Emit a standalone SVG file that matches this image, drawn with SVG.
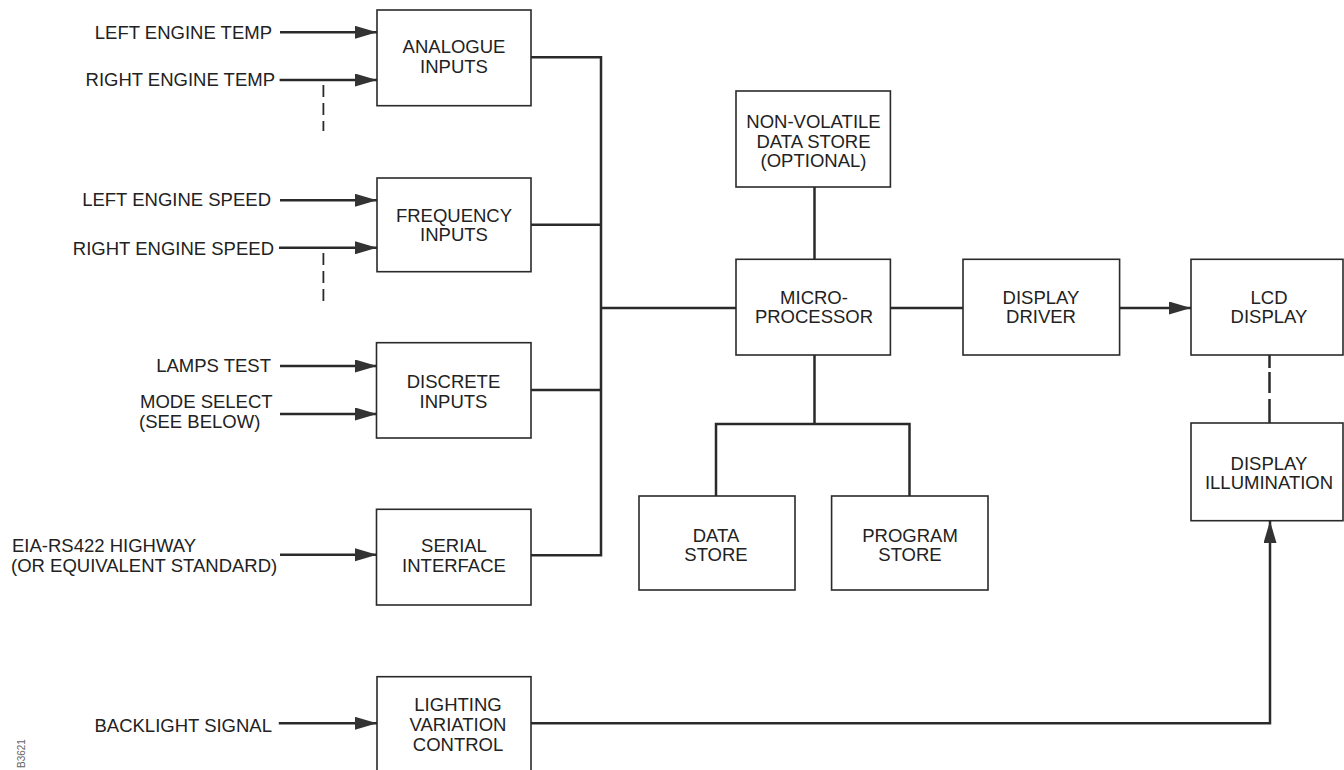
<svg xmlns="http://www.w3.org/2000/svg" width="1344" height="770" viewBox="0 0 1344 770">
<style>
text{font-family:"Liberation Sans",Arial,sans-serif;font-size:18.5px;fill:#222}
.c{text-anchor:middle}
.e{text-anchor:end}
.box{fill:#fff;stroke:#2a2a2a;stroke-width:1.6}
.ln{fill:none;stroke:#2a2a2a;stroke-width:2.5}
.ar{fill:none;stroke:#2a2a2a;stroke-width:2.5;marker-end:url(#ah)}
.dash{fill:none;stroke:#2a2a2a;stroke-width:1.8;stroke-dasharray:12 6}
.tag{font-size:10px;fill:#666}
</style>
<defs>
<marker id="ah" markerUnits="userSpaceOnUse" markerWidth="23" markerHeight="14" refX="22" refY="6.5" orient="auto">
<path d="M0,0 L22,6.5 L0,13 Z" fill="#333"/>
</marker>
</defs>
<rect width="1344" height="770" fill="#fff"/>

<g id="connectors">
<path class="ar" d="M280,32.3 H377"/>
<path class="ar" d="M279.6,80 H377"/>
<path class="ar" d="M280,200.3 H377"/>
<path class="ar" d="M279,247.7 H377"/>
<path class="ar" d="M280,366 H377"/>
<path class="ar" d="M280,414 H377"/>
<path class="ar" d="M280,554.7 H377"/>
<path class="ar" d="M278.8,723.3 H377"/>
<path class="dash" d="M323.4,85 V131"/>
<path class="dash" d="M323.4,253 V305"/>
<path class="ln" d="M531,57.3 H601 V555.3 H531"/>
<path class="ln" d="M531,224.7 H601"/>
<path class="ln" d="M531,390 H601"/>
<path class="ln" d="M601,308 H736"/>
<path class="ln" d="M814.5,187 V259"/>
<path class="ln" d="M890,308 H963"/>
<path class="ar" d="M1120,308 H1191"/>
<path class="ln" d="M814.5,355 V424 M716,496 V424 H909.5 V496"/>
<path fill="none" stroke="#2a2a2a" stroke-width="2.5" stroke-dasharray="13 4 21 6 24 20" d="M1269.5,355 V423"/>
<path class="ar" d="M531,723.3 H1270 V521"/>
</g>

<g id="labels">
<text class="e" x="272" y="39">LEFT ENGINE TEMP</text>
<text class="e" x="275" y="86">RIGHT ENGINE TEMP</text>
<text class="e" x="271" y="206">LEFT ENGINE SPEED</text>
<text class="e" x="274" y="255">RIGHT ENGINE SPEED</text>
<text class="e" x="271" y="372">LAMPS TEST</text>
<text x="140" y="408">MODE SELECT</text>
<text x="139" y="428">(SEE BELOW)</text>
<text x="12" y="552">EIA-RS422 HIGHWAY</text>
<text x="11" y="572">(OR EQUIVALENT STANDARD)</text>
<text class="e" x="272" y="732">BACKLIGHT SIGNAL</text>
<text class="tag" transform="translate(25 768) rotate(-90)">B3621</text>
</g>

<g id="analogue-inputs">
<rect class="box" x="377" y="10" width="154" height="95.7"/>
<text class="c" x="454" y="53.3">ANALOGUE</text>
<text class="c" x="454" y="72.7">INPUTS</text>
</g>
<g id="frequency-inputs">
<rect class="box" x="377" y="178" width="154" height="93.7"/>
<text class="c" x="454" y="221.7">FREQUENCY</text>
<text class="c" x="454" y="240.7">INPUTS</text>
</g>
<g id="discrete-inputs">
<rect class="box" x="376.5" y="342.7" width="154.5" height="95.3"/>
<text class="c" x="453.5" y="388.3">DISCRETE</text>
<text class="c" x="453.5" y="408.3">INPUTS</text>
</g>
<g id="serial-interface">
<rect class="box" x="376.5" y="509.3" width="154.5" height="95.7"/>
<text class="c" x="454" y="552.3">SERIAL</text>
<text class="c" x="454" y="572.3">INTERFACE</text>
</g>
<g id="lighting-variation-control">
<rect class="box" x="377" y="676.7" width="154" height="100"/>
<text class="c" x="458" y="710.7">LIGHTING</text>
<text class="c" x="458" y="730.7">VARIATION</text>
<text class="c" x="458" y="750.7">CONTROL</text>
</g>
<g id="non-volatile-data-store">
<rect class="box" x="736" y="91" width="154.4" height="96"/>
<text class="c" x="813.5" y="127.7">NON-VOLATILE</text>
<text class="c" x="813.5" y="147.7">DATA STORE</text>
<text class="c" x="813.5" y="167.3">(OPTIONAL)</text>
</g>
<g id="microprocessor">
<rect class="box" x="736" y="259.3" width="154.4" height="95.7"/>
<text class="c" x="814" y="304">MICRO-</text>
<text class="c" x="814" y="323.3">PROCESSOR</text>
</g>
<g id="display-driver">
<rect class="box" x="963" y="259.3" width="156.6" height="95.7"/>
<text class="c" x="1041" y="304">DISPLAY</text>
<text class="c" x="1041" y="323.3">DRIVER</text>
</g>
<g id="lcd-display">
<rect class="box" x="1191" y="259.3" width="152" height="95.7"/>
<text class="c" x="1269" y="304">LCD</text>
<text class="c" x="1269" y="323.3">DISPLAY</text>
</g>
<g id="display-illumination">
<rect class="box" x="1191" y="423" width="152" height="97.7"/>
<text class="c" x="1269" y="470">DISPLAY</text>
<text class="c" x="1269" y="489.3">ILLUMINATION</text>
</g>
<g id="data-store">
<rect class="box" x="639" y="496" width="156" height="94"/>
<text class="c" x="716" y="541.7">DATA</text>
<text class="c" x="716" y="560.7">STORE</text>
</g>
<g id="program-store">
<rect class="box" x="831.6" y="496" width="156.4" height="94"/>
<text class="c" x="910" y="541.7">PROGRAM</text>
<text class="c" x="910" y="560.7">STORE</text>
</g>
</svg>
